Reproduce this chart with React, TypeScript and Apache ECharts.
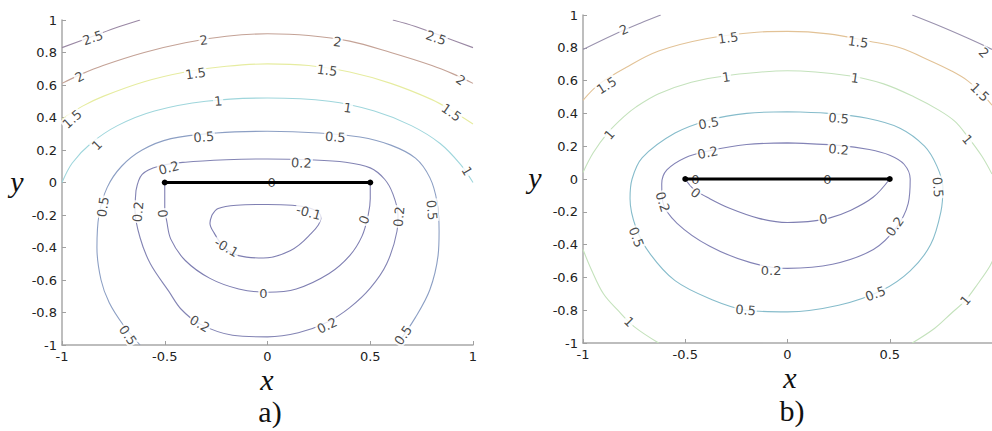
import React, { useEffect, useRef } from "react";
import * as echarts from "echarts";

// ---------- Panel a) contour lines: [x, y] ----------
const aLevelM01 = [[-0.27,-0.2],[-0.24,-0.16],[-0.15,-0.14],[0,-0.135],[0.12,-0.14],[0.2,-0.155],[0.25,-0.185],[0.26,-0.22],[0.2,-0.33],[0.11,-0.42],[-0.02,-0.465],[-0.14,-0.45],[-0.21,-0.4],[-0.26,-0.31],[-0.28,-0.25],[-0.27,-0.2]];
const aLevel0 = [[-0.5,0],[-0.5,-0.08],[-0.5,-0.15],[-0.49,-0.24],[-0.47,-0.35],[-0.4,-0.48],[-0.28,-0.59],[-0.14,-0.655],[0,-0.675],[0.14,-0.655],[0.3,-0.56],[0.4,-0.45],[0.46,-0.33],[0.49,-0.2],[0.5,-0.1],[0.5,0]];
const aLevel02 = [[-0.64,-0.05],[-0.61,0.05],[-0.53,0.1],[-0.4,0.125],[-0.2,0.14],[0,0.145],[0.2,0.14],[0.38,0.125],[0.5,0.09],[0.57,0.02],[0.61,-0.07],[0.635,-0.2],[0.63,-0.3],[0.58,-0.5],[0.5,-0.65],[0.4,-0.77],[0.29,-0.86],[0.15,-0.925],[0,-0.95],[-0.17,-0.94],[-0.33,-0.87],[-0.42,-0.78],[-0.48,-0.67],[-0.57,-0.5],[-0.62,-0.34],[-0.645,-0.17],[-0.64,-0.05]];
const aLevel05 = [[-0.62,-1],[-0.7,-0.88],[-0.77,-0.74],[-0.81,-0.6],[-0.83,-0.4],[-0.82,-0.2],[-0.78,-0.03],[-0.71,0.1],[-0.61,0.2],[-0.47,0.27],[-0.25,0.305],[0,0.315],[0.25,0.305],[0.45,0.28],[0.6,0.23],[0.72,0.15],[0.79,0.03],[0.825,-0.12],[0.835,-0.3],[0.83,-0.45],[0.79,-0.66],[0.72,-0.83],[0.63,-1]];
const aLevel1 = [[-1,0.0],[-0.95,0.12],[-0.86,0.24],[-0.73,0.35],[-0.55,0.44],[-0.3,0.5],[0,0.52],[0.3,0.5],[0.52,0.44],[0.7,0.35],[0.84,0.24],[0.94,0.11],[1,0.0]];
const aLevel15 = [[-1,0.39],[-0.9,0.47],[-0.8,0.53],[-0.6,0.62],[-0.4,0.68],[-0.2,0.715],[0,0.73],[0.2,0.72],[0.4,0.68],[0.6,0.61],[0.8,0.51],[0.9,0.44],[1,0.36]];
const aLevel2 = [[-1,0.61],[-0.9,0.67],[-0.8,0.72],[-0.6,0.8],[-0.4,0.86],[-0.2,0.9],[0,0.915],[0.2,0.905],[0.4,0.87],[0.6,0.8],[0.8,0.72],[0.9,0.67],[1,0.61]];
const aLevel25Left = [[-1,0.83],[-0.85,0.9],[-0.72,0.96],[-0.62,1.0]];
const aLevel25Right = [[0.61,1.0],[0.72,0.96],[0.85,0.9],[1,0.83]];

// ---------- Panel b) contour lines ----------
const bLevel0 = [[-0.5,0],[-0.46,-0.06],[-0.38,-0.12],[-0.28,-0.18],[-0.14,-0.24],[0,-0.265],[0.1,-0.26],[0.2,-0.24],[0.31,-0.19],[0.42,-0.11],[0.5,0]];
const bLevel02 = [[0,0.22],[0.25,0.205],[0.4,0.18],[0.5,0.145],[0.57,0.09],[0.6,0.0],[0.59,-0.15],[0.53,-0.3],[0.42,-0.43],[0.22,-0.52],[0,-0.545],[-0.18,-0.51],[-0.38,-0.41],[-0.54,-0.27],[-0.61,-0.14],[-0.615,-0.03],[-0.59,0.055],[-0.5,0.13],[-0.39,0.17],[-0.2,0.21],[0,0.22]];
const bLevel05 = [[0,0.41],[0.2,0.4],[0.39,0.37],[0.55,0.31],[0.67,0.2],[0.73,0.08],[0.76,-0.05],[0.75,-0.2],[0.7,-0.4],[0.6,-0.56],[0.46,-0.68],[0.25,-0.77],[0,-0.81],[-0.2,-0.8],[-0.38,-0.73],[-0.55,-0.62],[-0.67,-0.46],[-0.74,-0.3],[-0.77,-0.12],[-0.76,0.0],[-0.71,0.13],[-0.55,0.28],[-0.38,0.36],[-0.2,0.4],[0,0.41]];
const bLevel1Top = [[-1,0.04],[-0.95,0.16],[-0.88,0.28],[-0.8,0.38],[-0.74,0.44],[-0.63,0.52],[-0.47,0.59],[-0.3,0.63],[0,0.66],[0.3,0.63],[0.47,0.58],[0.62,0.5],[0.74,0.42],[0.82,0.35],[0.88,0.26],[0.95,0.14],[1.0,0.03]];
const bLevel1BottomLeft = [[-1,-0.43],[-0.96,-0.55],[-0.9,-0.7],[-0.83,-0.8],[-0.75,-0.9],[-0.63,-1]];
const bLevel1BottomRight = [[0.61,-1],[0.72,-0.91],[0.8,-0.82],[0.87,-0.74],[0.93,-0.64],[0.99,-0.53],[1.02,-0.45]];
const bLevel15 = [[-1,0.48],[-0.92,0.58],[-0.79,0.68],[-0.63,0.78],[-0.4,0.855],[-0.15,0.895],[0,0.9],[0.2,0.885],[0.4,0.84],[0.55,0.8],[0.7,0.72],[0.8,0.66],[0.88,0.6],[0.95,0.52],[1,0.45]];
const bLevel2Left = [[-1,0.79],[-0.85,0.88],[-0.72,0.95],[-0.62,1.0]];
const bLevel2Right = [[0.61,1.0],[0.75,0.93],[0.88,0.86],[0.95,0.82],[1,0.79]];

// The segment (crack) from -0.5 to 0.5 on y = 0
const segment = [[-0.5,0],[0.5,0]];

// Inline contour labels: [text, x, y, angle]
const aLabels: [string, number, number, number][] = [
  ["2.5",-0.85,0.89,19],["2.5",0.82,0.89,-19],["2",-0.915,0.65,28],["2",-0.31,0.875,8],["2",0.34,0.865,-8],["2",0.94,0.63,-35],
  ["1.5",-0.95,0.39,42],["1.5",-0.35,0.67,8],["1.5",0.29,0.69,-8],["1.5",0.895,0.43,-35],
  ["1",-0.83,0.23,45],["1",-0.24,0.5,5],["1",0.39,0.46,-8],["1",0.97,0.07,-60],
  ["0.5",-0.31,0.28,4],["0.5",0.33,0.28,-4],["0.5",-0.8,-0.15,82],["0.5",-0.68,-0.94,-55],["0.5",0.8,-0.17,-85],["0.5",0.66,-0.94,55],
  ["0.2",-0.48,0.09,15],["0.2",0.165,0.12,-3],["0.2",-0.63,-0.18,85],["0.2",0.64,-0.21,85],["0.2",-0.33,-0.87,-30],["0.2",0.29,-0.88,25],
  ["0",-0.51,-0.19,-85],["0",0.47,-0.23,70],["0",-0.02,-0.68,0],["0",0.02,0,0],
  ["-0.1",0.2,-0.185,-15],["-0.1",-0.2,-0.4,-30],
];
const bLabels: [string, number, number, number][] = [
  ["2",-0.8,0.91,25],["2",0.96,0.77,-45],
  ["1.5",-0.885,0.57,32],["1.5",-0.29,0.86,8],["1.5",0.345,0.835,-8],["1.5",0.94,0.53,-45],
  ["1",-0.87,0.27,50],["1",-0.3,0.62,8],["1",0.33,0.615,-8],["1",0.88,0.24,-50],["1",-0.775,-0.87,-45],["1",0.87,-0.74,50],
  ["0.5",-0.385,0.34,10],["0.5",0.25,0.37,-5],["0.5",0.735,-0.05,-85],["0.5",-0.74,-0.355,-70],["0.5",-0.205,-0.8,-5],["0.5",0.43,-0.7,20],
  ["0.2",-0.39,0.16,12],["0.2",0.25,0.18,-5],["0.2",-0.61,-0.14,-72],["0.2",0.525,-0.29,55],["0.2",-0.08,-0.555,0],
  ["0",-0.45,0,0],["0",0.195,0,0],["0",-0.45,-0.085,-40],["0",0.175,-0.245,10],
];

const aContours: [string, number[][]][] = [
  ["-0.1", aLevelM01], ["0", aLevel0], ["0.2", aLevel02], ["0.5", aLevel05], ["1", aLevel1],
  ["1.5", aLevel15], ["2", aLevel2], ["2.5", aLevel25Left], ["2.5", aLevel25Right],
];
const bContours: [string, number[][]][] = [
  ["0", bLevel0], ["0.2", bLevel02], ["0.5", bLevel05], ["1", bLevel1Top], ["1", bLevel1BottomLeft],
  ["1", bLevel1BottomRight], ["1.5", bLevel15], ["2", bLevel2Left], ["2", bLevel2Right],
];

const aColors: Record<string, string> = {
  "-0.1": "#7f7fb2", "0": "#7f7fb2", "0.2": "#8384b4", "0.5": "#8c9fc4",
  "1": "#9fd6dc", "1.5": "#e6eca0", "2": "#c4a296", "2.5": "#9a88a4",
};
const bColors: Record<string, string> = {
  "0": "#7f7fb2", "0.2": "#8383b6", "0.5": "#86bccb", "1": "#c4e2bc", "1.5": "#e2c296", "2": "#9a92ae",
};

const tickFont = "DejaVu Sans";

function xAxisFor(gridIndex: number, showMax: boolean) {
  return {
    type: "value", gridIndex, min: -1, max: 1, interval: 0.5,
    axisLine: { show: true, onZero: false, lineStyle: { color: "#a8a8a8", width: 1.5 } },
    axisTick: { show: true, inside: true, length: 4, lineStyle: { color: "#a0a0a0" } },
    axisLabel: { margin: 5, color: "#222", fontSize: 13, fontFamily: tickFont, showMaxLabel: showMax },
    splitLine: { show: false },
  };
}
function yAxisFor(gridIndex: number) {
  return {
    type: "value", gridIndex, min: -1, max: 1, interval: 0.2,
    axisLine: { show: true, onZero: false, lineStyle: { color: "#a8a8a8", width: 1.5 } },
    axisTick: { show: true, inside: true, length: 4, lineStyle: { color: "#a0a0a0" } },
    axisLabel: { margin: 5, color: "#222", fontSize: 13, fontFamily: tickFont },
    splitLine: { show: false },
  };
}

function panelSeries(idx: number, contours: [string, number[][]][], colors: Record<string, string>, labels: [string, number, number, number][]) {
  const s: any[] = contours.map(([lvl, pts]) => ({
    type: "line", xAxisIndex: idx, yAxisIndex: idx, data: pts, smooth: 0.35,
    showSymbol: false, symbol: "none", silent: true, z: 2,
    lineStyle: { color: colors[lvl], width: 1.1 },
  }));
  s.push({
    type: "scatter", xAxisIndex: idx, yAxisIndex: idx, silent: true, z: 3,
    symbolSize: 1, itemStyle: { color: "rgba(0,0,0,0)" },
    data: labels.map(([t, x, y, r]) => ({ value: [x, y], name: t, label: { rotate: r } })),
    label: {
      show: true, formatter: "{b}", position: "inside", fontSize: 13, fontFamily: tickFont,
      color: "#1a1a1a", backgroundColor: "#fff", padding: [0, 1],
    },
  });
  s.push({
    type: "line", xAxisIndex: idx, yAxisIndex: idx, data: segment, silent: true, z: 4,
    symbol: "circle", symbolSize: 6, showSymbol: true,
    lineStyle: { color: "#000", width: 3 }, itemStyle: { color: "#000" },
  });
  return s;
}

const serifItalic = "italic 30px 'Liberation Serif', 'Times New Roman', serif";
const serifPlain = "30px 'Liberation Serif', 'Times New Roman', serif";

export default function App() {
  const ref = useRef<HTMLDivElement>(null);
  useEffect(() => {
    const chart = echarts.init(ref.current!, null, { renderer: "svg" });
    const option: any = {
      animation: false,
      backgroundColor: "#fff",
      grid: [
        { left: 62, top: 20, width: 411, height: 325 },
        { left: 583, top: 15, width: 412, height: 328 },
      ],
      xAxis: [xAxisFor(0, true), xAxisFor(1, false)],
      yAxis: [yAxisFor(0), yAxisFor(1)],
      series: [
        ...panelSeries(0, aContours, aColors, aLabels),
        ...panelSeries(1, bContours, bColors, bLabels),
      ],
      graphic: [
        { type: "text", x: 17, y: 181, style: { text: "y", font: serifItalic, fill: "#111", align: "center", verticalAlign: "middle" } },
        { type: "text", x: 267, y: 379, style: { text: "x", font: serifItalic, fill: "#111", align: "center", verticalAlign: "middle" } },
        { type: "text", x: 270, y: 411, style: { text: "a)", font: serifPlain, fill: "#111", align: "center", verticalAlign: "middle" } },
        { type: "text", x: 535, y: 177, style: { text: "y", font: serifItalic, fill: "#111", align: "center", verticalAlign: "middle" } },
        { type: "text", x: 790, y: 377, style: { text: "x", font: serifItalic, fill: "#111", align: "center", verticalAlign: "middle" } },
        { type: "text", x: 792, y: 410, style: { text: "b)", font: serifPlain, fill: "#111", align: "center", verticalAlign: "middle" } },
      ],
    };
    chart.setOption(option);
    return () => chart.dispose();
  }, []);
  return (
    <div
      ref={ref}
      style={{ position: "absolute", left: 0, top: 0, width: 992, height: 431, background: "#fff", overflow: "hidden" }}
    />
  );
}
